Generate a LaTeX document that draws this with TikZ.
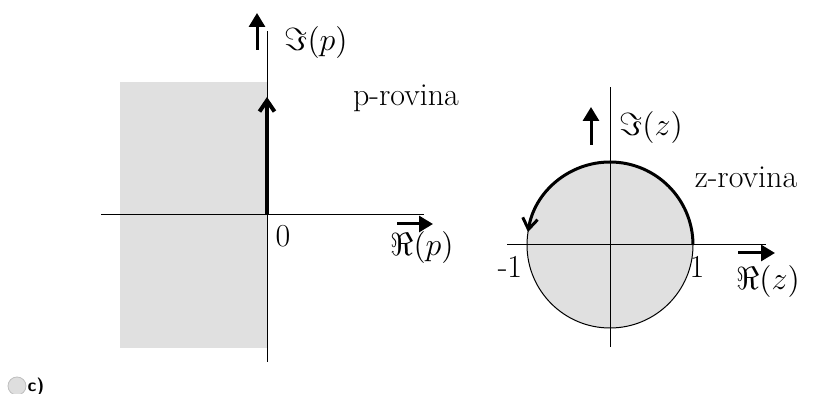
\RequirePackage{fix-cm}
\documentclass[tikz,border=0pt]{standalone}
\usetikzlibrary{arrows.meta}
\definecolor{vlakgrijs}{rgb}{0.88,0.88,0.88}
\definecolor{knopgrijs}{rgb}{0.87,0.87,0.87}
\tikzset{
  as/.style={
    line width=0.5pt,
    black
  },
  richting/.style={
    -{Triangle[length=7pt,width=8pt]},
    line width=1.5pt
  },
  pad/.style={
    -{Straight Barb[length=5.5pt,width=7.5pt]},
    line width=2pt
  },
  tekst/.style={
    font=\fontsize{16}{19}\selectfont,
    inner sep=0pt
  }
}
\begin{document}
\begin{tikzpicture}[x=0.5pt,y=-0.5pt]
\useasboundingbox (0,0) rectangle (813,394);
% p-rovina
\fill[vlakgrijs] (120,82) rectangle (267,348);
\coordinate (pO) at (267,215);
\coordinate (pL) at (101,215);
\coordinate (pR) at (424,215);
\coordinate (pT) at (267,31);
\coordinate (pB) at (267,362);
\coordinate (pJ) at (267,97);
\draw[as] (pL) -- (pR);
\draw[as] (pB) -- (pT);
\draw[pad] (pO) -- (pJ);
\coordinate (pIa) at (257,50);
\coordinate (pIb) at (257,13);
\coordinate (pRa) at (397,224);
\coordinate (pRb) at (433,224);
\draw[richting] (pIa) -- (pIb);
\draw[richting] (pRa) -- (pRb);
\node[tekst] (imp) at (316,43) {$\Im(p)$};
\node[tekst] (rep) at (422,248) {$\Re(p)$};
\node[tekst] (nul) at (283,236) {0};
\node[tekst] (prov) at (406,98) {p-rovina};
% z-rovina
\coordinate (zO) at (610,245);
\fill[vlakgrijs] (zO) circle (83);
\draw[line width=0.5pt] (zO) circle (83);
\coordinate (zL) at (507,245);
\coordinate (zR) at (766,245);
\coordinate (zT) at (610,87);
\coordinate (zB) at (610,347);
\draw[as] (zL) -- (zR);
\draw[as] (zB) -- (zT);
\coordinate (zS) at (693,245);
\draw[pad,line width=1.5pt] (zS) arc (0:-171:83);
\coordinate (zIa) at (591,145);
\coordinate (zIb) at (591,107);
\coordinate (zRa) at (738,253);
\coordinate (zRb) at (775,253);
\draw[richting] (zIa) -- (zIb);
\draw[richting] (zRa) -- (zRb);
\node[tekst] (imz) at (651,128) {$\Im(z)$};
\node[tekst] (rez) at (768,282) {$\Re(z)$};
\node[tekst] (min1) at (510,267) {-1};
\node[tekst] (een) at (697,267) {1};
\node[tekst] (zrov) at (746,177) {z-rovina};
% keuze c)
\coordinate (knop) at (17,386);
\draw[gray!50,fill=knopgrijs] (knop) circle (9);
\node[font=\sffamily\bfseries\fontsize{9}{10}\selectfont,inner sep=0pt] (keuze) at (36,387) {c)};
\end{tikzpicture}
\end{document}
